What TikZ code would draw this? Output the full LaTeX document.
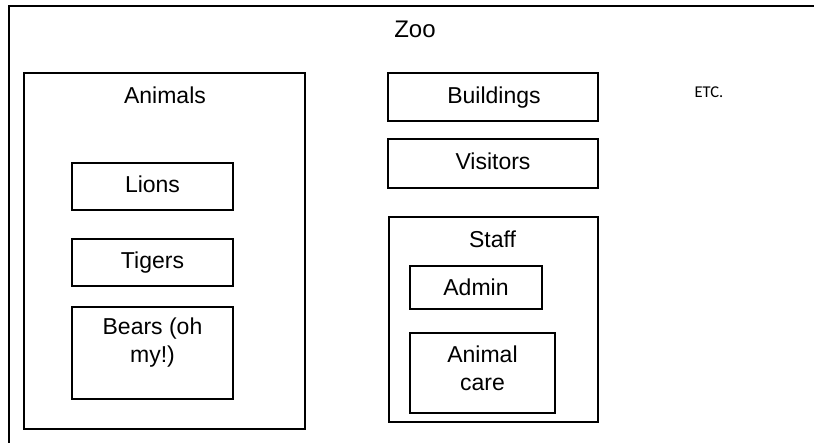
\documentclass[tikz,border=0pt]{standalone}
\usepackage{fontspec}
\setmainfont{Liberation Sans}
\newfontfamily\etcfont{Carlito}
\begin{document}
\begin{tikzpicture}[x=1pt,y=-1pt,
  box/.style={draw=black,line width=2pt,inner sep=0pt,outer sep=0pt,fill=none},
  lbl/.style={anchor=base,inner sep=0pt,font=\fontsize{23}{27.5}\selectfont,align=center},
]
\useasboundingbox (0,0) rectangle (814,442);
\clip (0,0) rectangle (814,442);
% outer frame (extends past the right and bottom edges)
\node[box,minimum width=830pt,minimum height=460pt] (zoo) at (424,235.5) {};
\node[lbl,font=\fontsize{24}{28}\selectfont] (zoot) at (415,37) {Zoo};
% Animals
\node[box,minimum width=281pt,minimum height=356pt] (animals) at (164.5,251) {};
\node[lbl] (animalst) at (165,103) {Animals};
\node[box,minimum width=161pt,minimum height=47pt] (lions) at (152.5,186.5) {};
\node[lbl] (lionst) at (152.5,192) {Lions};
\node[box,minimum width=161pt,minimum height=47pt] (tigers) at (152.5,262.5) {};
\node[lbl] (tigerst) at (152.5,268) {Tigers};
\node[box,minimum width=161pt,minimum height=92pt] (bears) at (152.5,352.5) {};
\node[lbl,anchor=north] (bearst) at (152.5,318) {Bears (oh\\my!)};
% Buildings, Visitors
\node[box,minimum width=210pt,minimum height=48pt] (buildings) at (493,97) {};
\node[lbl] (buildingst) at (494,103) {Buildings};
\node[box,minimum width=210pt,minimum height=49pt] (visitors) at (493,163.5) {};
\node[lbl] (visitorst) at (493,169) {Visitors};
% Staff
\node[box,minimum width=209pt,minimum height=205pt] (staff) at (493.5,319.5) {};
\node[lbl] (stafft) at (492.5,247) {Staff};
\node[box,minimum width=132pt,minimum height=43pt] (admin) at (476,287.5) {};
\node[lbl] (admint) at (476,295) {Admin};
\node[box,minimum width=145pt,minimum height=80pt] (care) at (482.5,373) {};
\node[lbl,anchor=north] (caret) at (482.5,346) {Animal\\care};
% ETC.
\node[anchor=base,inner sep=0pt,font=\etcfont\fontsize{16.5}{20}\selectfont] (etc) at (709,97) {ETC.};
\end{tikzpicture}
\end{document}
